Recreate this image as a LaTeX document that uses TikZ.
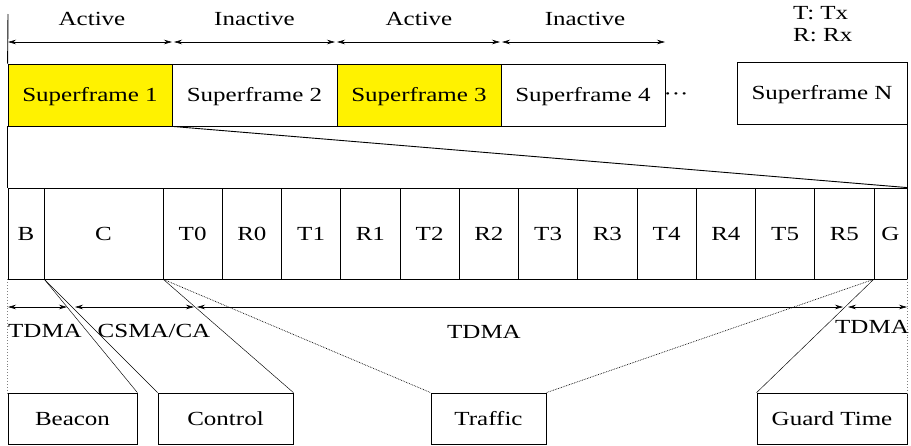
\documentclass[tikz,border=0pt]{standalone}
\usepackage{fontspec}
\setmainfont{Liberation Serif}[FakeStretch=1.25]
\usetikzlibrary{arrows.meta}
\begin{document}
\begin{tikzpicture}[x=1pt,y=-1pt,
  every node/.style={font=\fontsize{20}{22}\selectfont},
  cell/.style={draw, line width=0.8pt, inner sep=0pt, text height=13.2pt, text depth=0pt},
  sf/.style={cell, minimum height=62pt},
  slot/.style={cell, minimum height=91pt},
  lbox/.style={cell, minimum height=51pt},
  dimarrow/.style={{Stealth[length=8pt,width=4.5pt]}-{Stealth[length=8pt,width=4.5pt]}, line width=0.6pt},
  fan/.style={line width=0.45pt},
  fandot/.style={line width=0.7pt, densely dotted},
  guide/.style={gray, dotted, line width=0.9pt},
  edge/.style={line width=0.9pt}]
\useasboundingbox (0,0) rectangle (911,445);

% superframes
\node[sf, fill=yellow, minimum width=164pt] (sf1) at (90,95) {Superframe 1};
\node[sf, minimum width=165pt] (sf2) at (254.5,95) {Superframe 2};
\node[sf, fill=yellow, minimum width=164pt] (sf3) at (419,95) {Superframe 3};
\node[sf, minimum width=164pt] (sf4) at (583,95) {Superframe 4};
\node[anchor=base] (dots) at (676,100) {\textperiodcentered\textperiodcentered\textperiodcentered};
\node[sf, minimum width=170pt] (sfN) at (822,93) {Superframe N};
\node[anchor=north west, align=left, inner sep=0pt] (legend) at (793,6) {T: Tx\\R: Rx};

% top arrows
\coordinate (t0) at (8,14);
\coordinate (a0) at (8,42);   \coordinate (a1) at (172,42);
\coordinate (b0) at (174,42); \coordinate (b1) at (335,42);
\coordinate (c0) at (337,42); \coordinate (c1) at (500,42);
\coordinate (d0) at (502,42); \coordinate (d1) at (665,42);
\draw[dimarrow] (a0) -- (a1);
\draw[dimarrow] (b0) -- (b1);
\draw[dimarrow] (c0) -- (c1);
\draw[dimarrow] (d0) -- (d1);
\draw[edge] (t0) -- (sf1.north west);
\node[anchor=base] (lab1) at (92,25) {Active};
\node[anchor=base] (lab2) at (254.5,25) {Inactive};
\node[anchor=base] (lab3) at (419,25) {Active};
\node[anchor=base] (lab4) at (585,25) {Inactive};

% slots
\node[slot, minimum width=36pt] (B) at (26,233.5) {B};
\node[slot, minimum width=119pt] (C) at (103.5,233.5) {C};
\foreach \lab [count=\i from 0] in {T0,R0,T1,R1,T2,R2,T3,R3,T4,R4,T5,R5}
  \node[slot, minimum width=59.25pt] (s\i) at ({192.625+59.25*\i},233.5) {\lab};
\node[slot, minimum width=33pt] (G) at (890.5,233.5) {G};

% zoom lines
\draw[edge] (sf1.south west) -- (B.north west);
\draw[edge] (sf1.south east) -- (G.north east);
\draw[edge] (sfN.south east) -- (G.north east);

% bottom boxes
\node[lbox, minimum width=129pt] (beacon) at (72.5,418.5) {Beacon};
\node[lbox, minimum width=135pt] (control) at (225.5,418.5) {Control};
\node[lbox, minimum width=115pt] (traffic) at (488.5,418.5) {Traffic};
\node[lbox, minimum width=150pt] (guard) at (832,418.5) {Guard Time};

% guides
\draw[guide] (B.south west) -- (beacon.north west);
\draw[guide] (G.south east) -- (guard.north east);

% lower arrows
\coordinate (e0) at (8,307);   \coordinate (e1) at (67,307);
\coordinate (f0) at (75,307);  \coordinate (f1) at (194,307);
\coordinate (g0) at (197,307); \coordinate (g1) at (843,307);
\coordinate (h0) at (848,307); \coordinate (h1) at (907,307);
\draw[dimarrow] (e0) -- (e1);
\draw[dimarrow] (f0) -- (f1);
\draw[dimarrow] (g0) -- (g1);
\draw[dimarrow] (h0) -- (h1);
\node[anchor=base] (m1) at (45,337) {TDMA};
\node[anchor=base] (m2) at (154,337) {CSMA/CA};
\node[anchor=base] (m3) at (484,338) {TDMA};
\node[anchor=base] (m4) at (872,333) {TDMA};

% fan lines
\draw[fan] (B.south east) -- (beacon.north east);
\draw[fan] (B.south east) -- (control.north west);
\draw[fan] (C.south east) -- (control.north east);
\draw[fandot] (C.south east) -- (traffic.north west);
\draw[fandot] (G.south west) -- (traffic.north east);
\draw[fan] (G.south west) -- (guard.north west);
\end{tikzpicture}
\end{document}
